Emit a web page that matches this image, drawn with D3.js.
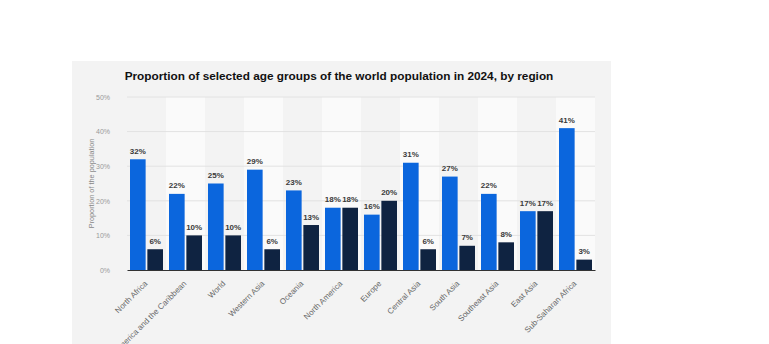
<!DOCTYPE html>
<html>
<head>
<meta charset="utf-8">
<script src="https://cdn.jsdelivr.net/npm/d3@7"></script>
<style>
  body { margin: 0; background: #fff; overflow: hidden; }
  text { font-family: "Liberation Sans", Arial, sans-serif; }
</style>
</head>
<body>
<div id="chart"></div>
<script>
// Chart data
var regions = ["North Africa", "Latin America and the Caribbean", "World", "Western Asia", "Oceania",
  "North America", "Europe", "Central Asia", "South Asia", "Southeast Asia", "East Asia", "Sub-Saharan Africa"];
var seriesNames = ["0-14 years", "65 years and older"];
var youngShare = [32, 22, 25, 29, 23, 18, 16, 31, 27, 22, 17, 41];
var oldShare = [6, 10, 10, 6, 13, 18, 20, 6, 7, 8, 17, 3];
var yTicks = [0, 10, 20, 30, 40, 50];

var svgWidth = 769;
var svgHeight = 344;

var chartMargin = { top: 97, left: 127, right: 174, bottom: 74 };
var chartWidth = svgWidth - chartMargin.left - chartMargin.right;
var chartHeight = svgHeight - chartMargin.top - chartMargin.bottom;

var svg = d3.select("#chart")
  .append("svg")
  .attr("width", svgWidth)
  .attr("height", svgHeight);

// grey panel behind the chart
svg.append("rect")
  .attr("x", 72)
  .attr("y", 61)
  .attr("width", 539)
  .attr("height", svgHeight - 61)
  .attr("fill", "#f3f3f3");

svg.append("text")
  .attr("x", 339)
  .attr("y", 80)
  .attr("text-anchor", "middle")
  .style("font-size", "11.8px")
  .style("font-weight", "bold")
  .attr("fill", "#111")
  .text("Proportion of selected age groups of the world population in 2024, by region");

var chartGroup = svg.append("g")
  .attr("transform", `translate(${chartMargin.left}, ${chartMargin.top})`);

var xScale = d3.scaleBand()
  .domain(regions)
  .range([0, chartWidth]);

var x1Scale = d3.scaleBand()
  .domain(seriesNames)
  .range([3, xScale.bandwidth() - 3])
  .paddingInner(0.1);

var yScale = d3.scaleLinear()
  .domain([0, 50])
  .range([chartHeight, 0]);

// alternating column shading
chartGroup.selectAll(".stripe")
  .data(regions.filter((d, i) => i % 2 === 1))
  .enter()
  .append("rect")
  .attr("class", "stripe")
  .attr("x", d => xScale(d))
  .attr("y", 0)
  .attr("width", xScale.bandwidth())
  .attr("height", chartHeight)
  .attr("fill", "#fafafa");

// gridlines
chartGroup.selectAll(".grid")
  .data(yTicks.filter(t => t > 0))
  .enter()
  .append("line")
  .attr("x1", 0)
  .attr("x2", chartWidth)
  .attr("y1", d => yScale(d))
  .attr("y2", d => yScale(d))
  .attr("stroke", "#e2e2e2")
  .attr("stroke-width", 1);

// y axis
var leftAxis = d3.axisLeft(yScale)
  .tickValues(yTicks)
  .tickSize(0)
  .tickPadding(17)
  .tickFormat(d => d + "%");

var yAxis = chartGroup.append("g").call(leftAxis);
yAxis.select(".domain").remove();
yAxis.selectAll("text")
  .style("font-size", "7px")
  .attr("fill", "#999");

chartGroup.append("text")
  .attr("transform", "rotate(-90)")
  .attr("x", -chartHeight / 2)
  .attr("y", -33)
  .attr("text-anchor", "middle")
  .style("font-size", "7.3px")
  .attr("fill", "#888")
  .text("Proportion of the population");

// bars
var barData = regions.map((r, i) => ({ region: r, values: [
  { series: seriesNames[0], value: youngShare[i], color: "#0b66dd" },
  { series: seriesNames[1], value: oldShare[i], color: "#0f2341" }
] }));

var groups = chartGroup.selectAll(".group")
  .data(barData)
  .enter()
  .append("g")
  .attr("transform", d => `translate(${xScale(d.region)}, 0)`);

groups.selectAll("rect")
  .data(d => d.values)
  .enter()
  .append("rect")
  .attr("x", d => x1Scale(d.series))
  .attr("y", d => yScale(d.value))
  .attr("width", x1Scale.bandwidth())
  .attr("height", d => chartHeight - yScale(d.value))
  .attr("fill", d => d.color);

groups.selectAll(".val")
  .data(d => d.values)
  .enter()
  .append("text")
  .attr("class", "val")
  .attr("x", d => x1Scale(d.series) + x1Scale.bandwidth() / 2)
  .attr("y", d => yScale(d.value) - 5.5)
  .attr("text-anchor", "middle")
  .style("font-size", "8px")
  .style("font-weight", "600")
  .attr("fill", "#3a3a3a")
  .text(d => d.value + "%");

// x axis
var bottomAxis = d3.axisBottom(xScale).tickSize(0).tickPadding(6);
var xAxis = chartGroup.append("g")
  .attr("transform", `translate(0, ${chartHeight})`)
  .call(bottomAxis);
xAxis.select(".domain")
  .attr("stroke", "#333")
  .attr("stroke-width", 1.2);
xAxis.selectAll("text")
  .style("font-size", "8px")
  .attr("fill", "#666")
  .attr("text-anchor", "end")
  .attr("dx", "-9")
  .attr("dy", "5")
  .attr("transform", "rotate(-45)");
</script>
</body>
</html>
